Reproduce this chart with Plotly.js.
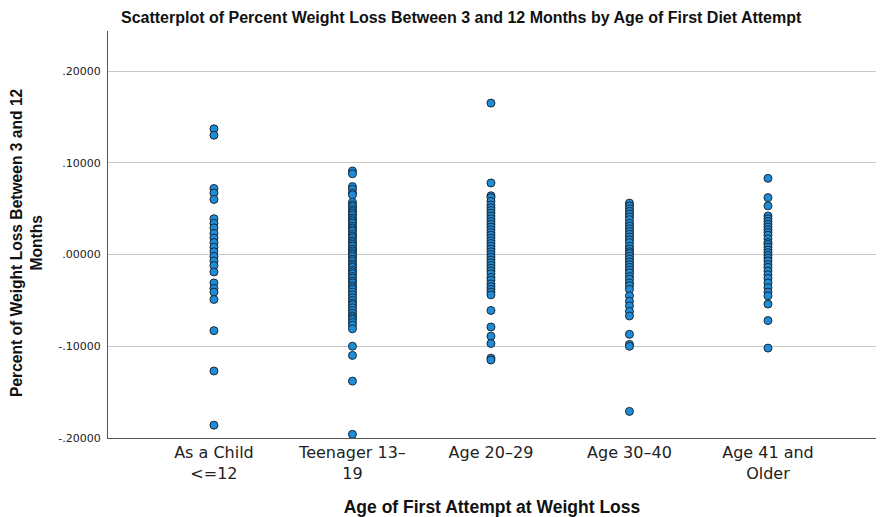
<!DOCTYPE html>
<html>
<head>
<meta charset="utf-8">
<script src="https://cdn.plot.ly/plotly-3.0.1.min.js"></script>
<style>html,body{margin:0;padding:0;background:#fff;}#chart{width:886px;height:517px;}</style>
</head>
<body>
<div id="chart"></div>
<script>
var categories = ["As a Child<br><=12", "Teenager 13–<br>19", "Age 20–29", "Age 30–40", "Age 41 and<br>Older"];

var childValues = [0.137, 0.130, 0.072, 0.067, 0.060, 0.039, 0.034, 0.029, 0.023, 0.018, 0.013, 0.008, 0.003, -0.002, -0.007, -0.012, -0.019, -0.031, -0.037, -0.041, -0.049, -0.083, -0.127, -0.186];

var teenValues = [0.091, 0.088, 0.074, 0.071, 0.067, 0.065, 0.057, 0.054, 0.052, 0.049, 0.047, 0.045, 0.043, 0.040, 0.038, 0.036, 0.034, 0.031, 0.029, 0.027, 0.025, 0.022, 0.020, 0.018, 0.015, 0.013, 0.011, 0.009, 0.006, 0.004, 0.002, 0.000, -0.002, -0.005, -0.007, -0.010, -0.012, -0.014, -0.017, -0.019, -0.021, -0.024, -0.026, -0.029, -0.031, -0.034, -0.036, -0.038, -0.041, -0.044, -0.047, -0.050, -0.053, -0.055, -0.058, -0.061, -0.064, -0.067, -0.069, -0.071, -0.074, -0.077, -0.081, -0.100, -0.110, -0.138, -0.196];

var age2029Values = [0.165, 0.078, 0.064, 0.062, 0.058, 0.054, 0.051, 0.048, 0.045, 0.042, 0.039, 0.036, 0.033, 0.030, 0.027, 0.024, 0.021, 0.018, 0.015, 0.012, 0.009, 0.006, 0.003, 0.000, -0.003, -0.006, -0.009, -0.012, -0.015, -0.018, -0.021, -0.025, -0.028, -0.032, -0.035, -0.038, -0.041, -0.044, -0.061, -0.079, -0.089, -0.097, -0.113, -0.115];

var age3040Values = [0.056, 0.053, 0.050, 0.047, 0.044, 0.041, 0.038, 0.034, 0.031, 0.028, 0.025, 0.022, 0.019, 0.016, 0.013, 0.009, 0.006, 0.003, 0.001, -0.002, -0.005, -0.008, -0.011, -0.014, -0.017, -0.020, -0.024, -0.027, -0.031, -0.034, -0.038, -0.045, -0.051, -0.056, -0.062, -0.067, -0.087, -0.098, -0.100, -0.171];

var age41Values = [0.083, 0.062, 0.053, 0.042, 0.039, 0.036, 0.033, 0.030, 0.027, 0.024, 0.021, 0.017, 0.013, 0.011, 0.008, 0.005, 0.002, -0.001, -0.004, -0.007, -0.011, -0.014, -0.018, -0.022, -0.026, -0.031, -0.036, -0.041, -0.045, -0.054, -0.072, -0.102];

var yTickVals = [-0.2, -0.1, 0, 0.1, 0.2];
var yTickText = ["-.20000", "-.10000", ".00000", ".10000", ".20000"];

var groups = [childValues, teenValues, age2029Values, age3040Values, age41Values];
var xs = [], ys = [];
groups.forEach(function (vals, i) {
  vals.forEach(function (v) { xs.push(i); ys.push(v); });
});

var trace = {
  type: "scatter",
  mode: "markers",
  x: xs,
  y: ys,
  marker: { size: 8, color: "rgb(30,140,215)", line: { color: "#1b2a38", width: 1 } },
  hoverinfo: "y",
  showlegend: false
};

var layout = {
  width: 886,
  height: 517,
  margin: { l: 108, r: 10, t: 31, b: 79 },
  paper_bgcolor: "#fff",
  plot_bgcolor: "#fff",
  title: {
    text: "<b>Scatterplot of Percent Weight Loss Between 3 and 12 Months by Age of First Diet Attempt</b>",
    font: { family: "Liberation Sans, Arial, sans-serif", size: 16, color: "#111" },
    x: 0.5205, xanchor: "center", y: 0.967, yanchor: "middle"
  },
  xaxis: {
    range: [-0.765, 4.78],
    tickmode: "array",
    tickvals: [0, 1, 2, 3, 4],
    ticktext: categories,
    showgrid: false,
    zeroline: false,
    showline: true,
    linecolor: "#555",
    linewidth: 1,
    ticks: "",
    tickfont: { family: "DejaVu Sans, sans-serif", size: 16, color: "#222" },
    title: {
      text: "<b>Age of First Attempt at Weight Loss</b>",
      font: { family: "Liberation Sans, Arial, sans-serif", size: 17.5, color: "#111" },
      standoff: 18
    }
  },
  yaxis: {
    range: [-0.2, 0.2436],
    tickmode: "array",
    tickvals: yTickVals,
    ticktext: yTickText,
    showgrid: true,
    gridcolor: "#c8c8c8",
    gridwidth: 1,
    zeroline: false,
    showline: true,
    linecolor: "#555",
    linewidth: 1,
    ticks: "",
    ticklabelstandoff: 4,
    tickfont: { family: "DejaVu Sans, sans-serif", size: 11, color: "#222" }
  },
  annotations: [{
    text: "<b>Percent of Weight Loss Between 3 and 12<br>Months</b>",
    font: { family: "Liberation Sans, Arial, sans-serif", size: 15.6, color: "#111" },
    xref: "paper", yref: "paper",
    x: -0.1055, y: 0.4816,
    xanchor: "center", yanchor: "middle",
    textangle: -90,
    showarrow: false
  }]
};

Plotly.newPlot("chart", [trace], layout, { displayModeBar: false, staticPlot: true });
</script>
</body>
</html>
